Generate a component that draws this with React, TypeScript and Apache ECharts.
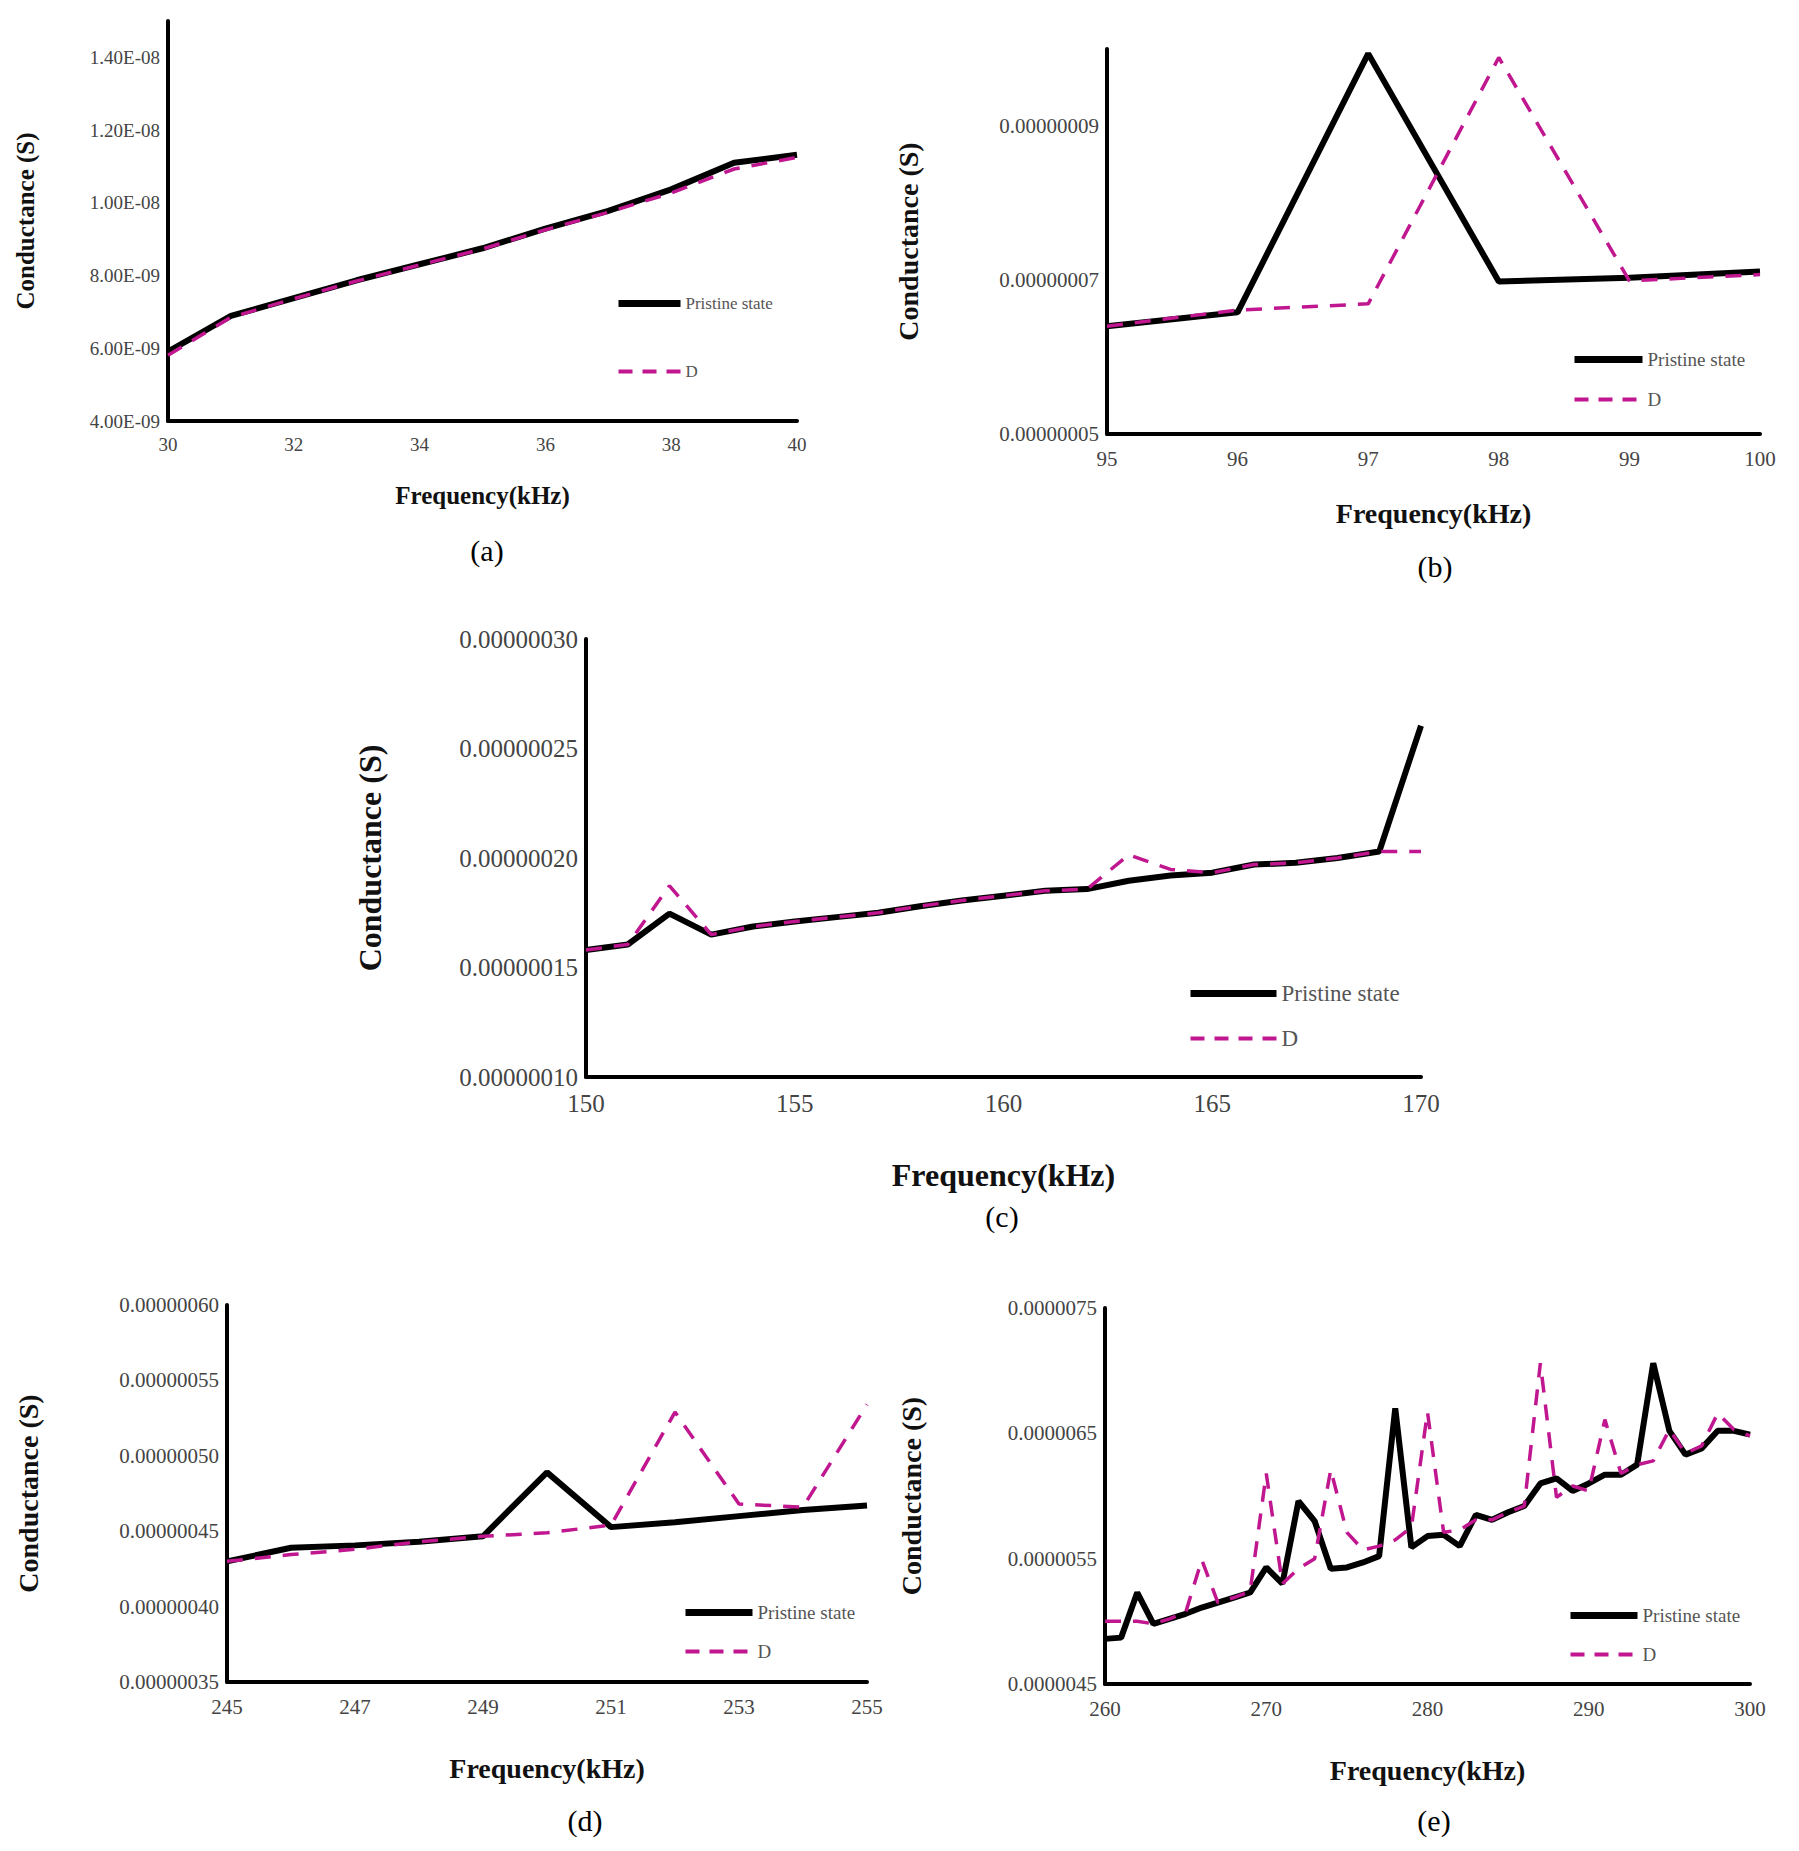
import React from 'react';
import * as echarts from 'echarts';

// (a) 30–40 kHz
const freqA = [30, 31, 32, 33, 34, 35, 36, 37, 38, 39, 40];
const pristineA = [5.91e-9, 6.89e-9, 7.38e-9, 7.87e-9, 8.31e-9, 8.75e-9, 9.29e-9, 9.78e-9, 10.37e-9, 11.1e-9, 11.32e-9];
const damageA = [5.81e-9, 6.85e-9, 7.36e-9, 7.85e-9, 8.29e-9, 8.73e-9, 9.26e-9, 9.74e-9, 10.27e-9, 10.93e-9, 11.25e-9];

// (b) 95–100 kHz
const freqB = [95, 96, 97, 98, 99, 100];
const pristineB = [6.4e-8, 6.58e-8, 9.94e-8, 6.98e-8, 7.03e-8, 7.11e-8];
const damageB = [6.4e-8, 6.61e-8, 6.69e-8, 9.89e-8, 6.99e-8, 7.07e-8];

// (c) 150–170 kHz
const freqC = [150, 151, 152, 153, 154, 155, 156, 157, 158, 159, 160, 161, 162, 163, 164, 165, 166, 167, 168, 169, 170];
const pristineC = [1.58e-7, 1.605e-7, 1.746e-7, 1.65e-7, 1.687e-7, 1.71e-7, 1.73e-7, 1.75e-7, 1.78e-7, 1.806e-7, 1.828e-7, 1.85e-7, 1.858e-7, 1.896e-7, 1.92e-7, 1.933e-7, 1.97e-7, 1.978e-7, 2.0e-7, 2.03e-7, 2.604e-7];
const damageC = [1.58e-7, 1.605e-7, 1.873e-7, 1.65e-7, 1.687e-7, 1.71e-7, 1.73e-7, 1.75e-7, 1.78e-7, 1.806e-7, 1.828e-7, 1.85e-7, 1.858e-7, 2.015e-7, 1.948e-7, 1.933e-7, 1.97e-7, 1.978e-7, 2.0e-7, 2.03e-7, 2.03e-7];

// (d) 245–255 kHz
const freqD = [245, 246, 247, 248, 249, 250, 251, 252, 253, 254, 255];
const pristineD = [4.3e-7, 4.39e-7, 4.406e-7, 4.43e-7, 4.466e-7, 4.89e-7, 4.527e-7, 4.56e-7, 4.6e-7, 4.64e-7, 4.67e-7];
const damageD = [4.3e-7, 4.345e-7, 4.38e-7, 4.43e-7, 4.466e-7, 4.49e-7, 4.54e-7, 5.29e-7, 4.68e-7, 4.66e-7, 5.34e-7];

// (e) 260–300 kHz
const freqE = [260, 261, 262, 263, 264, 265, 266, 267, 268, 269, 270, 271, 272, 273, 274, 275, 276, 277, 278, 279, 280, 281, 282, 283, 284, 285, 286, 287, 288, 289, 290, 291, 292, 293, 294, 295, 296, 297, 298, 299, 300];
const pristineE = [4.86, 4.87, 5.23, 4.98, 5.02, 5.06, 5.11, 5.15, 5.19, 5.23, 5.43, 5.3, 5.96, 5.8, 5.42, 5.43, 5.47, 5.52, 6.7, 5.59, 5.68, 5.69, 5.6, 5.85, 5.81, 5.87, 5.92, 6.1, 6.14, 6.04, 6.1, 6.17, 6.17, 6.25, 7.06, 6.52, 6.33, 6.38, 6.52, 6.52, 6.49].map((v) => v * 1e-6);
const damageE = [5.0, 5.0, 5.0, 4.98, 5.02, 5.07, 5.49, 5.15, 5.19, 5.24, 6.18, 5.3, 5.42, 5.5, 6.21, 5.71, 5.57, 5.6, 5.65, 5.75, 6.67, 5.71, 5.73, 5.81, 5.81, 5.87, 5.92, 7.06, 5.99, 6.08, 6.04, 6.61, 6.18, 6.25, 6.28, 6.53, 6.34, 6.4, 6.66, 6.53, 6.48].map((v) => v * 1e-6);

const SERIF = 'Liberation Serif';
const MAGENTA = '#c0168f';

const sci = (v: number) => {
  const e = Math.floor(Math.log10(v) + 1e-9);
  const m = v / Math.pow(10, e);
  return m.toFixed(2) + 'E-' + String(-e).padStart(2, '0');
};

const pairs = (xs: number[], ys: number[]) => xs.map((x, i) => [x, ys[i]]);

interface Panel {
  grid: { left: number; top: number; width: number; height: number };
  x: { min: number; max: number; interval: number };
  y: { min: number; max: number; interval: number; fmt: (v: number) => string };
  freq: number[];
  pristine: number[];
  damage: number[];
  font: number;
  titleFont: number;
  xGap: number;
  yGap: number;
  legend: { left: number; top: number; itemWidth: number; gap: number };
  caption: { x: number; y: number };
  label: string;
}

const panels: Panel[] = [
  {
    grid: { left: 168, top: 21, width: 629, height: 400 },
    x: { min: 30, max: 40, interval: 2 },
    y: { min: 4e-9, max: 1.5e-8, interval: 2e-9, fmt: (v) => (v > 1.45e-8 ? '' : sci(v)) },
    freq: freqA, pristine: pristineA, damage: damageA,
    font: 19, titleFont: 25, xGap: 62, yGap: 130,
    legend: { left: 610, top: 290, itemWidth: 62, gap: 51 },
    caption: { x: 482, y: 545 }, label: '(a)',
  },
  {
    grid: { left: 1107, top: 49, width: 653, height: 385 },
    x: { min: 95, max: 100, interval: 1 },
    y: { min: 5e-8, max: 1e-7, interval: 1e-8, fmt: (v) => (Math.round(v / 1e-8) % 2 === 1 ? v.toFixed(8) : '') },
    freq: freqB, pristine: pristineB, damage: damageB,
    font: 21, titleFont: 28, xGap: 65, yGap: 185,
    legend: { left: 1566, top: 345, itemWidth: 68, gap: 21 },
    caption: { x: 1430, y: 561 }, label: '(b)',
  },
  {
    grid: { left: 586, top: 639, width: 835, height: 438 },
    x: { min: 150, max: 170, interval: 5 },
    y: { min: 1e-7, max: 3e-7, interval: 5e-8, fmt: (v) => v.toFixed(8) },
    freq: freqC, pristine: pristineC, damage: damageC,
    font: 25, titleFont: 32, xGap: 82, yGap: 200,
    legend: { left: 1182, top: 977, itemWidth: 86, gap: 22 },
    caption: { x: 997, y: 1211 }, label: '(c)',
  },
  {
    grid: { left: 227, top: 1305, width: 640, height: 377 },
    x: { min: 245, max: 255, interval: 2 },
    y: { min: 3.5e-7, max: 6e-7, interval: 5e-8, fmt: (v) => v.toFixed(8) },
    freq: freqD, pristine: pristineD, damage: damageD,
    font: 21, titleFont: 28, xGap: 72, yGap: 185,
    legend: { left: 677, top: 1598, itemWidth: 67, gap: 20 },
    caption: { x: 580, y: 1815 }, label: '(d)',
  },
  {
    grid: { left: 1105, top: 1308, width: 645, height: 376 },
    x: { min: 260, max: 300, interval: 10 },
    y: { min: 4.5e-6, max: 7.5e-6, interval: 5e-7, fmt: (v) => (Math.round(v / 5e-7) % 2 === 1 ? v.toFixed(7) : '') },
    freq: freqE, pristine: pristineE, damage: damageE,
    font: 21, titleFont: 28, xGap: 72, yGap: 180,
    legend: { left: 1562, top: 1601, itemWidth: 67, gap: 20 },
    caption: { x: 1429, y: 1815 }, label: '(e)',
  },
];

export default function App() {
  const ref = React.useRef<HTMLDivElement>(null);

  React.useEffect(() => {
    document.body.style.margin = '0';
    if (!ref.current) return;
    const chart = echarts.init(ref.current, undefined, { renderer: 'svg' });

    const axisLine = { show: true, lineStyle: { color: '#000', width: 4 } };

    const option: echarts.EChartsOption = {
      animation: false,
      backgroundColor: '#fff',
      grid: panels.map((p) => ({ ...p.grid, containLabel: false })),
      xAxis: panels.map((p, i) => ({
        type: 'value',
        gridIndex: i,
        min: p.x.min,
        max: p.x.max,
        interval: p.x.interval,
        name: 'Frequency(kHz)',
        nameLocation: 'middle',
        nameGap: p.xGap,
        nameTextStyle: { fontFamily: SERIF, fontWeight: 'bold', fontSize: p.titleFont, color: '#111' },
        axisLine,
        axisTick: { show: false },
        splitLine: { show: false },
        axisLabel: { fontFamily: SERIF, fontSize: p.font, color: '#444', margin: 14 },
      })),
      yAxis: panels.map((p, i) => ({
        type: 'value',
        gridIndex: i,
        min: p.y.min,
        max: p.y.max,
        interval: p.y.interval,
        name: 'Conductance (S)',
        nameLocation: 'middle',
        nameGap: p.yGap,
        nameTextStyle: { fontFamily: SERIF, fontWeight: 'bold', fontSize: p.titleFont, color: '#111' },
        axisLine,
        axisTick: { show: false },
        splitLine: { show: false },
        axisLabel: { fontFamily: SERIF, fontSize: p.font, color: '#444', margin: 8, formatter: p.y.fmt },
      })),
      legend: panels.map((p) => ({
        left: p.legend.left,
        top: p.legend.top,
        orient: 'vertical',
        itemWidth: p.legend.itemWidth,
        itemHeight: 8,
        itemGap: p.legend.gap,
        textStyle: { fontFamily: SERIF, fontSize: p.font - 2, color: '#555' },
        data: [
          { name: 'Pristine state', itemStyle: { opacity: 0 }, lineStyle: { width: 7, color: '#000' } },
          { name: 'D', itemStyle: { opacity: 0 }, lineStyle: { width: 4, color: MAGENTA, type: [14, 10] } },
        ],
      })),
      title: panels.map((p) => ({
        text: p.label,
        left: p.caption.x,
        top: p.caption.y,
        textAlign: 'center',
        textVerticalAlign: 'middle',
        textStyle: { fontFamily: SERIF, fontWeight: 'normal', fontSize: 30, color: '#000' },
      })),
      series: panels.flatMap((p, i) => [
        {
          type: 'line',
          name: 'Pristine state',
          xAxisIndex: i,
          yAxisIndex: i,
          symbol: 'none',
          lineStyle: { color: '#000', width: 6 },
          itemStyle: { color: '#000' },
          data: pairs(p.freq, p.pristine),
        },
        {
          type: 'line',
          name: 'D',
          xAxisIndex: i,
          yAxisIndex: i,
          symbol: 'none',
          lineStyle: { color: MAGENTA, width: 3.5, type: [16, 12] },
          itemStyle: { color: MAGENTA },
          data: pairs(p.freq, p.damage),
        },
      ]),
    };

    chart.setOption(option);
    return () => chart.dispose();
  }, []);

  return <div ref={ref} style={{ width: 1799, height: 1851 }} />;
}
